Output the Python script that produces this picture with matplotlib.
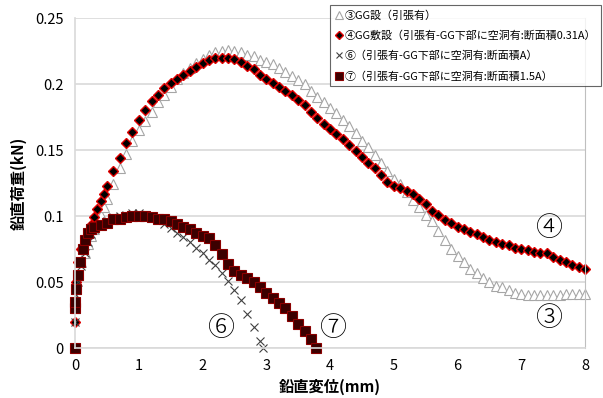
import matplotlib
matplotlib.use('Agg')
import matplotlib.pyplot as plt

plt.rcParams['font.family'] = ['Noto Sans CJK JP', 'DejaVu Sans']

# ③ GG設（引張有）
x3 = [0, 0.02, 0.05, 0.1, 0.15, 0.2, 0.25, 0.3, 0.35, 0.4, 0.45, 0.5, 0.6, 0.7, 0.8, 0.9,
      1.0, 1.1, 1.2, 1.3, 1.4, 1.5, 1.6, 1.7, 1.8, 1.9, 2.0, 2.1, 2.2, 2.3, 2.4, 2.5,
      2.6, 2.7, 2.8, 2.9, 3.0, 3.1, 3.2, 3.3, 3.4, 3.5, 3.6, 3.7, 3.8, 3.9, 4.0, 4.1,
      4.2, 4.3, 4.4, 4.5, 4.6, 4.7, 4.8, 4.9, 5.0, 5.1, 5.2, 5.3, 5.4, 5.5, 5.6, 5.7,
      5.8, 5.9, 6.0, 6.1, 6.2, 6.3, 6.4, 6.5, 6.6, 6.7, 6.8, 6.9, 7.0, 7.1, 7.2, 7.3,
      7.4, 7.5, 7.6, 7.7, 7.8, 7.9, 8.0]
y3 = [0.03, 0.045, 0.055, 0.065, 0.072, 0.079, 0.085, 0.09, 0.095, 0.101, 0.107, 0.113,
      0.124, 0.136, 0.147, 0.157, 0.165, 0.172, 0.179, 0.186, 0.192, 0.198, 0.204, 0.208,
      0.212, 0.216, 0.219, 0.222, 0.224, 0.225, 0.226, 0.225, 0.224, 0.222, 0.221, 0.218,
      0.217, 0.215, 0.212, 0.209, 0.206, 0.203, 0.2, 0.195, 0.19, 0.186, 0.182, 0.178,
      0.173, 0.168, 0.163, 0.157, 0.152, 0.146, 0.14, 0.134, 0.128, 0.124, 0.118, 0.112,
      0.107, 0.101, 0.096, 0.089, 0.082, 0.075, 0.07, 0.065, 0.06, 0.057, 0.053, 0.05,
      0.047, 0.046, 0.044, 0.042, 0.041, 0.04, 0.04, 0.04, 0.04, 0.04, 0.04, 0.041,
      0.041, 0.041, 0.041]

# ④ GG敷設（引張有-GG下部に空洞有:断面積0.31A）
x4 = [0, 0, 0.01, 0.05, 0.1, 0.15, 0.2, 0.25, 0.3, 0.35, 0.4, 0.45, 0.5, 0.6, 0.7, 0.8,
      0.9, 1.0, 1.1, 1.2, 1.3, 1.4, 1.5, 1.6, 1.7, 1.8, 1.9, 2.0, 2.1, 2.2, 2.3, 2.4,
      2.5, 2.6, 2.7, 2.8, 2.9, 3.0, 3.1, 3.2, 3.3, 3.4, 3.5, 3.6, 3.7, 3.8, 3.9, 4.0,
      4.1, 4.2, 4.3, 4.4, 4.5, 4.6, 4.7, 4.8, 4.9, 5.0, 5.1, 5.2, 5.3, 5.4, 5.5, 5.6,
      5.7, 5.8, 5.9, 6.0, 6.1, 6.2, 6.3, 6.4, 6.5, 6.6, 6.7, 6.8, 6.9, 7.0, 7.1, 7.2,
      7.3, 7.4, 7.5, 7.6, 7.7, 7.8, 7.9, 8.0]
y4 = [0.02, 0.03, 0.05, 0.065, 0.075, 0.082, 0.088, 0.093, 0.099, 0.105, 0.111, 0.117,
      0.123, 0.134, 0.144, 0.155, 0.164, 0.173, 0.18, 0.187, 0.192, 0.197, 0.201, 0.204,
      0.207, 0.21, 0.213, 0.216, 0.218, 0.22, 0.22, 0.22, 0.219, 0.217, 0.214, 0.211,
      0.207, 0.204, 0.201, 0.198, 0.195, 0.192, 0.188, 0.184, 0.179, 0.174, 0.17, 0.166,
      0.162, 0.158, 0.154, 0.149, 0.145, 0.14, 0.136, 0.131, 0.126, 0.123, 0.121, 0.119,
      0.117, 0.113, 0.109, 0.104, 0.101, 0.097, 0.095, 0.092, 0.09, 0.088, 0.086, 0.084,
      0.082, 0.08, 0.079, 0.078, 0.076, 0.075, 0.074, 0.073, 0.072, 0.072, 0.069, 0.067,
      0.065, 0.063, 0.061, 0.06]

# ⑥ 引張有-GG下部に空洞有:断面積A
x6 = [0, 0, 0.02, 0.05, 0.1, 0.15, 0.2, 0.25, 0.3, 0.4, 0.5, 0.6, 0.7, 0.8, 0.9, 1.0,
      1.1, 1.2, 1.3, 1.4, 1.5, 1.6, 1.7, 1.8, 1.9, 2.0, 2.1, 2.2, 2.3, 2.4, 2.5, 2.6,
      2.7, 2.8, 2.9, 2.95]
y6 = [0, 0.02, 0.04, 0.05, 0.062, 0.072, 0.08, 0.086, 0.09, 0.093, 0.096, 0.099, 0.1,
      0.101, 0.102, 0.102, 0.101, 0.099, 0.097, 0.094, 0.091, 0.087, 0.084, 0.08, 0.076,
      0.072, 0.067, 0.063, 0.057, 0.051, 0.044, 0.036, 0.026, 0.016, 0.005, 0.0]

# ⑦ 引張有-GG下部に空洞有:断面積1.5A
x7 = [0, 0, 0, 0.02, 0.05, 0.08, 0.12, 0.16, 0.2, 0.25, 0.3, 0.4, 0.5, 0.6, 0.7, 0.8,
      0.9, 1.0, 1.1, 1.2, 1.3, 1.4, 1.5, 1.6, 1.7, 1.8, 1.9, 2.0, 2.1, 2.2, 2.3, 2.4,
      2.5, 2.6, 2.7, 2.8, 2.9, 3.0, 3.1, 3.2, 3.3, 3.4, 3.5, 3.6, 3.7, 3.78]
y7 = [0, 0.03, 0.035, 0.045, 0.055, 0.065, 0.075, 0.082, 0.087, 0.09, 0.092, 0.093,
      0.095, 0.098, 0.098, 0.099, 0.1, 0.1, 0.1, 0.099, 0.098, 0.098, 0.096, 0.094,
      0.092, 0.09, 0.087, 0.085, 0.083, 0.078, 0.071, 0.064, 0.058, 0.055, 0.053, 0.05,
      0.046, 0.042, 0.038, 0.034, 0.03, 0.024, 0.018, 0.013, 0.007, 0.0]

labels = ['③GG設（引張有）',
          '④GG敷設（引張有-GG下部に空洞有:断面積0.31A）',
          '⑥（引張有-GG下部に空洞有:断面積A）',
          '⑦（引張有-GG下部に空洞有:断面積1.5A）']
yticks = [0, 0.05, 0.1, 0.15, 0.2, 0.25]
ytick_labels = ['0', '0.05', '0.1', '0.15', '0.2', '0.25']
xticks = [0, 1, 2, 3, 4, 5, 6, 7, 8]

fig = plt.figure(figsize=(6.03, 3.98), dpi=100)
ax = fig.add_axes([75 / 603, 50 / 398, 510 / 603, 330 / 398])

ax.plot(x3, y3, linestyle='none', marker='^', markersize=7.5,
        markerfacecolor='white', markeredgecolor='#a6a6a6', markeredgewidth=0.8,
        label=labels[0], clip_on=False)
ax.plot(x4, y4, linestyle='none', marker='D', markersize=5.2,
        markerfacecolor='black', markeredgecolor='#e00000', markeredgewidth=1.0,
        label=labels[1], clip_on=False)
ax.plot(x6, y6, linestyle='none', marker='x', markersize=6,
        color='#404040', markeredgewidth=0.8, label=labels[2], clip_on=False)
ax.plot(x7, y7, linestyle='none', marker='s', markersize=7.5,
        markerfacecolor='#3c0000', markeredgecolor='#8b0000', markeredgewidth=0.8,
        label=labels[3], clip_on=False)

ax.set_xlim(0, 8)
ax.set_ylim(0, 0.25)
ax.set_xticks(xticks)
ax.set_xticklabels([str(v) for v in xticks])
ax.set_yticks(yticks)
ax.set_yticklabels(ytick_labels)
ax.tick_params(length=0, labelsize=10.5, pad=8)
ax.yaxis.grid(True, color='#d9d9d9', linewidth=1.2)
ax.set_axisbelow(True)
ax.spines['top'].set_visible(False)
ax.spines['left'].set_color('#d9d9d9')
ax.spines['left'].set_linewidth(1.2)
ax.spines['bottom'].set_color('#d9d9d9')
ax.spines['bottom'].set_linewidth(1.2)
ax.spines['right'].set_color('#bfbfbf')
ax.spines['right'].set_linewidth(0.8)

ax.set_xlabel('鉛直変位(mm)', fontsize=11, fontweight='bold', labelpad=4)
ax.set_ylabel('鉛直荷重(kN)', fontsize=11, fontweight='bold', labelpad=6)

circ = ['Noto Sans CJK JP', 'DejaVu Sans']
ax.text(7.45, 0.091, '④', fontsize=19.5, ha='center', va='center', family=circ,
        fontweight='light')
ax.text(7.45, 0.023, '③', fontsize=19.5, ha='center', va='center', family=circ,
        fontweight='light')
ax.text(2.3, 0.015, '⑥', fontsize=19.5, ha='center', va='center', family=circ,
        fontweight='light')
ax.text(4.05, 0.015, '⑦', fontsize=19.5, ha='center', va='center', family=circ,
        fontweight='light')

leg = fig.legend(loc='upper left', bbox_to_anchor=(330 / 603, 1 - 5 / 398),
                 fontsize=7.9, frameon=True, fancybox=False, edgecolor='#404040',
                 handlelength=0.7, handletextpad=0.2, labelspacing=0.9,
                 borderpad=0.45, borderaxespad=0, markerscale=0.8)
leg.get_frame().set_linewidth(0.8)

fig.savefig('out.png', dpi=100)
